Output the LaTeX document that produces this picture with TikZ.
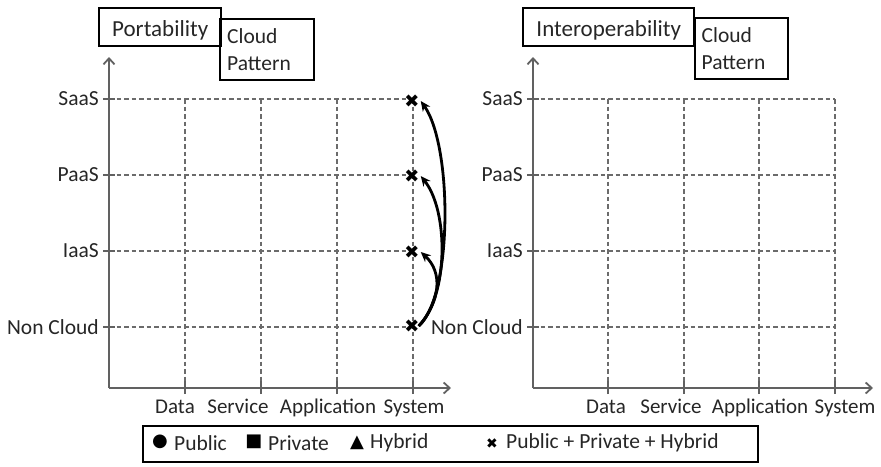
\documentclass[tikz,border=0pt]{standalone}
\usepackage{fontspec}
\setmainfont{Carlito}
\newfontfamily\symfont{DejaVu Sans}
\usetikzlibrary{arrows.meta}

\begin{document}
\begin{tikzpicture}[x=1pt,y=-1pt,
  lbl/.style={font=\fontsize{21.5}{24}\selectfont, text=black!85, inner sep=0pt},
  xlbl/.style={lbl, font=\fontsize{21}{24}\selectfont, anchor=base},
  titlebox/.style={draw=black, line width=2.4pt, inner sep=0pt, anchor=north west,
    font=\fontsize{21.5}{27}\selectfont, text=black!85},
  titletext/.style={font=\fontsize{23}{27}\selectfont, text height=18pt, text depth=0pt},
  axisline/.style={draw=black!62, line width=1.8pt},
  axisarrow/.style={axisline, -{Straight Barb[length=6pt,width=11pt]}},
  gridline/.style={draw=black!58, line width=1.5pt, dash pattern=on 4.5pt off 3pt},
  tickline/.style={draw=black!62, line width=1.6pt},
  xmark/.style={font=\symfont\fontsize{18}{18}\selectfont, inner sep=0pt, text=black},
  conn/.style={draw=black, line width=2.8pt, -{Stealth[length=10pt,width=9pt]}},
  legsym/.style={font=\symfont\fontsize{18}{18}\selectfont, inner sep=0pt, text=black},
]
\useasboundingbox (0,0) rectangle (881,466);

% ---------- left chart: portability ----------
\node[titlebox, minimum width=94pt, minimum height=61pt, align=left, text width=80pt]
  (lcp) at (219,18) {Cloud\\Pattern};
\node[titlebox, titletext, minimum width=122pt, minimum height=38pt]
  (lport) at (98,7) {Portability};

\coordinate (lo) at (109,388);
\coordinate (ltop) at (109,57);
\coordinate (lright) at (451,388);

\foreach \n/\y/\t in {1/99/SaaS,2/175/PaaS,3/251/IaaS,4/327/Non Cloud}{
  \coordinate (lr\n) at (109,\y);
  \coordinate (lre\n) at (413,\y);
  \node[lbl, anchor=east] (lyl\n) at (99,\y) {\t};
  \draw[gridline] (lr\n) -- (lre\n);
  \draw[tickline] ([xshift=-6pt]lr\n) -- ([xshift=6pt]lr\n);
}
\foreach \n/\x in {1/185,2/261,3/337,4/413}{
  \coordinate (lc\n) at (\x,388);
  \coordinate (lct\n) at (\x,99);
  \draw[gridline] (lct\n) -- (lc\n);
  \draw[tickline] ([yshift=-6pt]lc\n) -- ([yshift=7pt]lc\n);
}
\node[xlbl] (lxl1) at (175,413) {Data};
\node[xlbl] (lxl2) at (238,413) {Service};
\node[xlbl] (lxl3) at (328,413) {Application};
\node[xlbl] (lxl4) at (414,413) {System};

\draw[axisarrow] (lo) -- (ltop);
\draw[axisarrow] (lo) -- (lright);

% hybrid markers in the System column
\node[xmark] (m1) at (412,101) {✖};
\node[xmark] (m2) at (412,176) {✖};
\node[xmark] (m3) at (412,252) {✖};
\node[xmark] (m4) at (412,326) {✖};

% migrations from Non Cloud upwards
\draw[conn] ([xshift=-1pt]m4.east) .. controls +(34,-30) and +(32,45) .. ([xshift=1pt]m1.east);
\draw[conn] ([xshift=-1pt]m4.east) .. controls +(30,-30) and +(28,35) .. ([xshift=1pt]m2.east);
\draw[conn] ([xshift=-1pt]m4.east) .. controls +(22,-25) and +(22,20) .. ([xshift=1pt]m3.east);

% ---------- right chart: interoperability ----------
\node[titlebox, minimum width=93pt, minimum height=61pt, align=left, text width=80pt]
  (rcp) at (694,17) {Cloud\\Pattern};
\node[titlebox, titletext, minimum width=171pt, minimum height=38pt]
  (rint) at (522,7) {Interoperability};

\coordinate (ro) at (533,388);
\coordinate (rtop) at (533,57);
\coordinate (rright) at (873,388);

\foreach \n/\y/\t in {1/99/SaaS,2/175/PaaS,3/251/IaaS,4/327/Non Cloud}{
  \coordinate (rr\n) at (533,\y);
  \coordinate (rre\n) at (835,\y);
  \node[lbl, anchor=east] (ryl\n) at (523,\y) {\t};
  \draw[gridline] (rr\n) -- (rre\n);
  \draw[tickline] ([xshift=-6pt]rr\n) -- ([xshift=6pt]rr\n);
}
\foreach \n/\x in {1/608,2/684,3/759,4/835}{
  \coordinate (rc\n) at (\x,388);
  \coordinate (rct\n) at (\x,99);
  \draw[gridline] (rct\n) -- (rc\n);
  \draw[tickline] ([yshift=-6pt]rc\n) -- ([yshift=7pt]rc\n);
}
\node[xlbl] (rxl1) at (606,413) {Data};
\node[xlbl] (rxl2) at (671,413) {Service};
\node[xlbl] (rxl3) at (760,413) {Application};
\node[xlbl] (rxl4) at (845,413) {System};

\draw[axisarrow] (ro) -- (rtop);
\draw[axisarrow] (ro) -- (rright);

% ---------- legend ----------
\node[draw=black, line width=2pt, minimum width=615pt, minimum height=36pt, inner sep=0pt,
  anchor=north west] (legend) at (142,425) {};
\node[legsym] (lsym1) at (160,442) {●};
\node[lbl, anchor=west] (ltx1) at (174,443) {Public};
\node[legsym] (lsym2) at (254,442) {■};
\node[lbl, anchor=west] (ltx2) at (268,443) {Private};
\node[legsym] (lsym3) at (357,443) {▲};
\node[lbl, anchor=west] (ltx3) at (370,443) {Hybrid};
\node[legsym, font=\symfont\fontsize{14}{14}\selectfont] (lsym4) at (492,444) {✖};
\node[lbl, anchor=west] (ltx4) at (506,443) {Public + Private + Hybrid};
\end{tikzpicture}
\end{document}
